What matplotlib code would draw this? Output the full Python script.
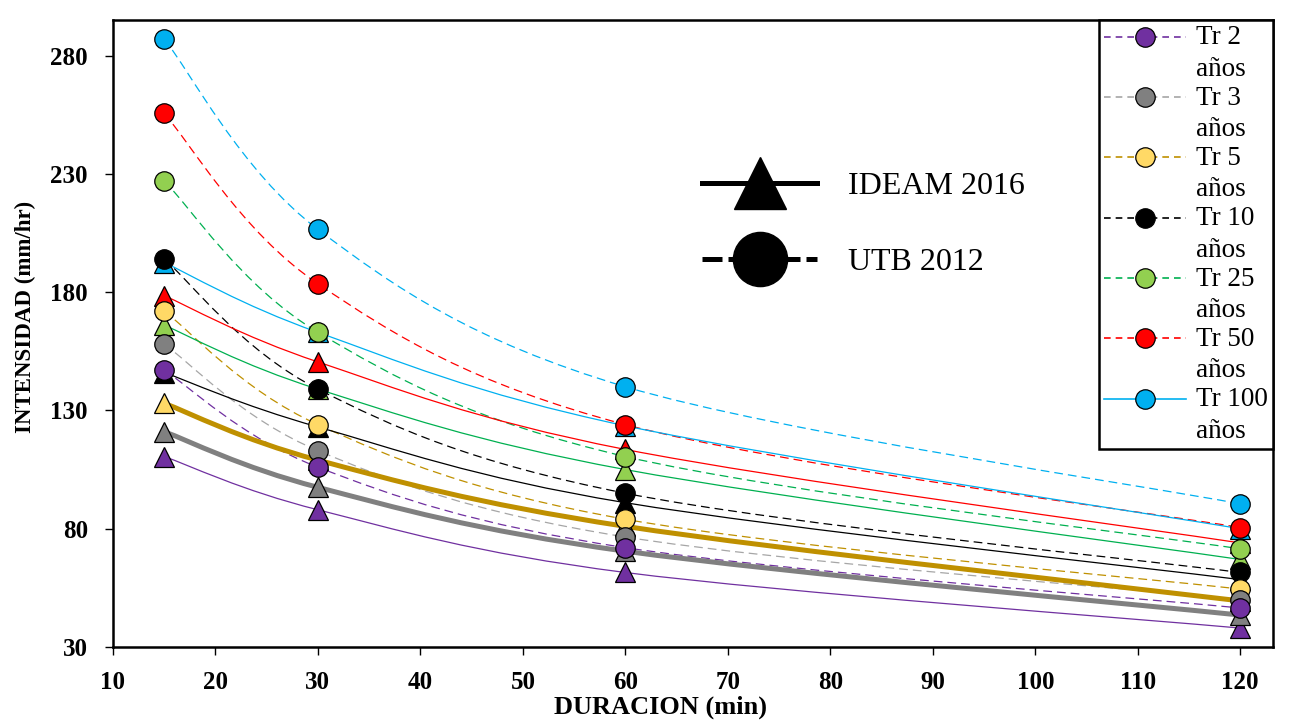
import numpy as np
import matplotlib
matplotlib.use("Agg")
from matplotlib import pyplot as plt
from matplotlib.path import Path
from matplotlib.patches import PathPatch
from matplotlib.lines import Line2D

plt.rcParams['font.family'] = ['Liberation Serif', 'DejaVu Serif']

# Duraciones (min)
durations = [15, 30, 60, 120]
labels = ["Tr 2\naños", "Tr 3\naños", "Tr 5\naños", "Tr 10\naños",
          "Tr 25\naños", "Tr 50\naños", "Tr 100\naños"]

# UTB 2012 (circulos, linea punteada)
utb_tr2 = [147, 106, 72, 46.5]
utb_tr3 = [158, 113, 76.5, 50]
utb_tr5 = [172, 124, 84, 54.5]
utb_tr10 = [194, 139, 95, 61.5]
utb_tr25 = [227, 163, 110.5, 71.5]
utb_tr50 = [255.5, 183.5, 124, 80.5]
utb_tr100 = [287, 206.5, 140, 90.5]

# IDEAM 2016 (triangulos, linea continua)
ideam_tr2 = [110.5, 88, 61.5, 38]
ideam_tr3 = [121, 97.5, 70.5, 43.5]
ideam_tr5 = [133, 109, 81, 49.5]
ideam_tr10 = [146, 123, 91, 58.5]
ideam_tr25 = [166, 139, 105, 67]
ideam_tr50 = [178.5, 150.5, 113.5, 74]
ideam_tr100 = [192.5, 163, 123.5, 80]

utb = [utb_tr2, utb_tr3, utb_tr5, utb_tr10, utb_tr25, utb_tr50, utb_tr100]
ideam = [ideam_tr2, ideam_tr3, ideam_tr5, ideam_tr10, ideam_tr25, ideam_tr50, ideam_tr100]

marker_colors = ['#7030A0', '#808080', '#FFD966', '#000000', '#92D050', '#FF0000', '#00B0F0']
dash_colors = ['#7030A0', '#A6A6A6', '#BF9000', '#000000', '#00B050', '#FF0000', '#00B0F0']
solid_colors = ['#7030A0', '#808080', '#BF9000', '#000000', '#00B050', '#FF0000', '#00B0F0']
solid_widths = [0.9, 3.6, 3.6, 0.9, 0.9, 0.9, 0.9]


def smooth_path(x, y):
    # curva suavizada tipo Excel (bezier por tramos)
    n = len(x)
    verts = [(x[0], y[0])]
    codes = [Path.MOVETO]
    for i in range(n - 1):
        a = max(i - 1, 0)
        b = min(i + 2, n - 1)
        c1 = (x[i] + (x[i + 1] - x[a]) / 6, y[i] + (y[i + 1] - y[a]) / 6)
        c2 = (x[i + 1] - (x[b] - x[i]) / 6, y[i + 1] - (y[b] - y[i]) / 6)
        verts += [c1, c2, (x[i + 1], y[i + 1])]
        codes += [Path.CURVE4] * 3
    return Path(verts, codes)


fig = plt.figure(figsize=(12.94, 7.23), dpi=100)
ax = fig.add_axes([0.0873, 0.1051, 0.8965, 0.8672])

for i in range(7):
    ax.add_patch(PathPatch(smooth_path(durations, ideam[i]), fill=False,
                           edgecolor=solid_colors[i], lw=solid_widths[i], zorder=2))
    ax.add_patch(PathPatch(smooth_path(durations, utb[i]), fill=False,
                           edgecolor=dash_colors[i], lw=0.9, linestyle=(0, (7, 4)), zorder=2))

for i in range(7):
    ax.plot(durations, ideam[i], linestyle='none', marker='^', markersize=14,
            markerfacecolor=marker_colors[i], markeredgecolor='black', markeredgewidth=0.9, zorder=3)
for i in range(7):
    ax.plot(durations, utb[i], linestyle='none', marker='o', markersize=14,
            markerfacecolor=marker_colors[i], markeredgecolor='black', markeredgewidth=0.9, zorder=10 - i)

ax.set_xlim(10, 123.2)
ax.set_ylim(30, 295)
ax.set_xticks(np.arange(10, 121, 10))
ax.set_yticks(np.arange(30, 281, 50))
ax.tick_params(direction='out', length=6, width=1, labelsize=18)
ax.tick_params(axis='y', pad=12)
ax.tick_params(axis='x', pad=11)
for t in ax.get_xticklabels() + ax.get_yticklabels():
    t.set_fontweight('bold')
for s in ax.spines.values():
    s.set_linewidth(1.8)
ax.set_xlabel("DURACION (min)", fontsize=19, fontweight='bold')
ax.set_ylabel("INTENSIDAD (mm/hr)", fontsize=16.5, fontweight='bold')
ax.xaxis.set_label_coords(0.4716, -0.078)
ax.yaxis.set_label_coords(-0.066, 0.526)

# leyenda de periodos de retorno
handles = []
for i in range(7):
    ls = '-' if i == 6 else (0, (4, 3))
    handles.append(Line2D([], [], color=dash_colors[i], lw=1.2, linestyle=ls, marker='o',
                          markersize=14, markerfacecolor=marker_colors[i],
                          markeredgecolor='black', markeredgewidth=0.9))
leg = ax.legend(handles, labels, loc='upper right', borderaxespad=0, fontsize=19.5,
                labelspacing=0.15, handlelength=3.0, handletextpad=0.37, borderpad=0.2,
                handleheight=1.1, fancybox=False, edgecolor='black', framealpha=1)
leg.get_frame().set_linewidth(1.8)
for t in leg.get_texts():
    t.set_linespacing(1.33)
for col in leg._legend_handle_box.get_children():
    for row in col.get_children():
        row.align = 'top'
leg.set_zorder(20)
ax.add_artist(leg)

# leyenda de fuentes
src = [Line2D([], [], color='black', lw=3.6, marker='^', markersize=37, markerfacecolor='black'),
       Line2D([], [], color='black', lw=3.6, linestyle=(0, (4, 1.2)), marker='o', markersize=39,
              markerfacecolor='black')]
leg2 = ax.legend(src, ["IDEAM 2016", "UTB 2012"], loc='center', bbox_to_anchor=(0.647, 0.674),
                 fontsize=23, frameon=False, handlelength=3.6, handletextpad=0.95, labelspacing=1.45)
leg2.set_zorder(20)

fig.savefig("out.png", dpi=100)
